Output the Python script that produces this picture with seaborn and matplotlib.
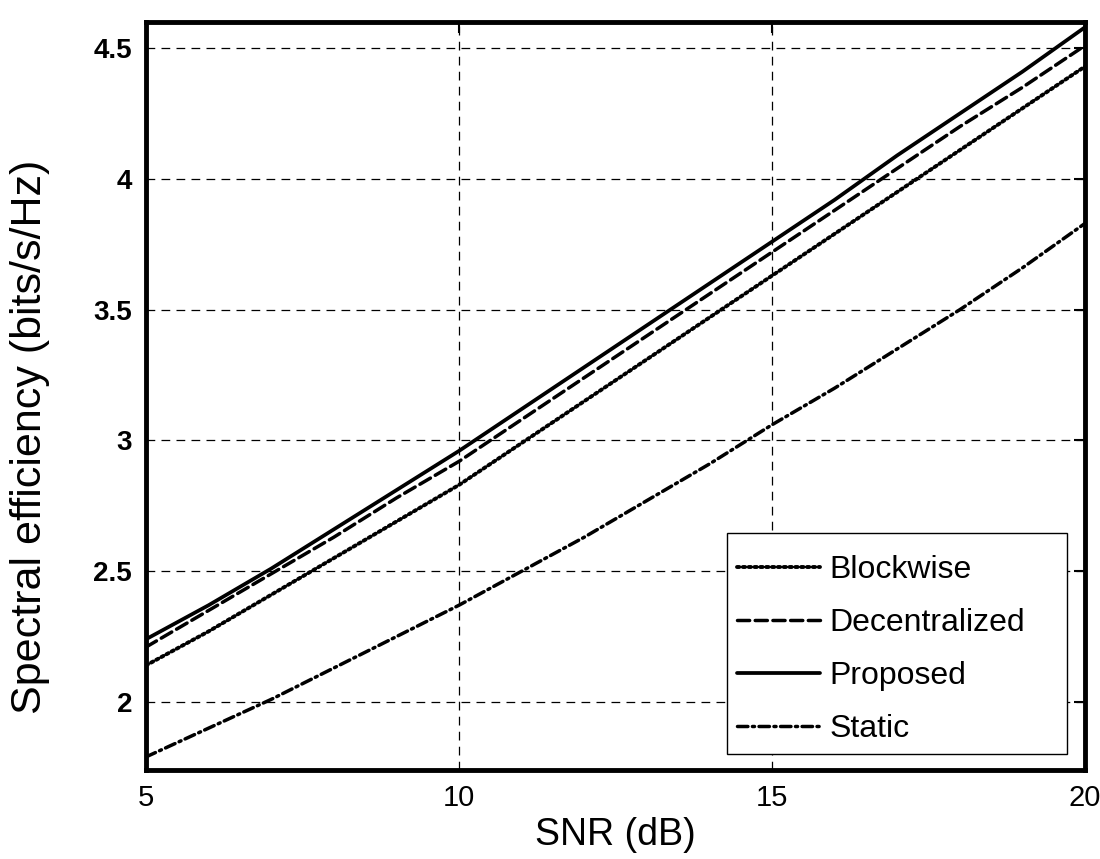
import pandas as pd
import numpy as np
import matplotlib
matplotlib.use('Agg')
import matplotlib.pyplot as plt
from matplotlib.patches import Rectangle
import seaborn as sns

# ── Data ──────────────────────────────────────────────────────────────────────
snr = [5, 6, 7, 8, 9, 10, 11, 12, 13, 14, 15, 16, 17, 18, 19, 20]
blockwise     = [2.14, 2.27, 2.41, 2.55, 2.69, 2.83, 2.99, 3.15, 3.31, 3.47, 3.63, 3.79, 3.95, 4.11, 4.27, 4.43]
decentralized = [2.21, 2.35, 2.49, 2.63, 2.78, 2.92, 3.08, 3.24, 3.40, 3.56, 3.72, 3.88, 4.04, 4.20, 4.35, 4.51]
proposed      = [2.24, 2.37, 2.51, 2.66, 2.81, 2.96, 3.12, 3.28, 3.44, 3.60, 3.76, 3.92, 4.09, 4.25, 4.41, 4.58]
static        = [1.79, 1.90, 2.01, 2.13, 2.25, 2.37, 2.50, 2.63, 2.77, 2.91, 3.06, 3.20, 3.35, 3.50, 3.66, 3.83]
methods = ['Blockwise', 'Decentralized', 'Proposed', 'Static']
x_ticks = [5, 10, 15, 20]
y_ticks = [2, 2.5, 3, 3.5, 4, 4.5]
y_tick_labels = ['2', '2.5', '3', '3.5', '4', '4.5']

df = pd.DataFrame({
    'SNR': snr * 4,
    'value': blockwise + decentralized + proposed + static,
    'method': [m for m in methods for _ in snr],
})

# ── Style ─────────────────────────────────────────────────────────────────────
sns.set_theme(style='white')
plt.rcParams['font.family'] = ['Liberation Sans', 'DejaVu Sans']
plt.rcParams['text.color'] = 'black'
plt.rcParams['axes.labelcolor'] = 'black'

dash_map = {
    'Blockwise': (0.6, 0.9),
    'Decentralized': (3.5, 1.6),
    'Proposed': '',
    'Static': (3.0, 1.3, 0.6, 1.3),
}
width_map = {'Blockwise': 2.8, 'Decentralized': 2.5, 'Proposed': 2.7, 'Static': 2.5}

W, H = 1100, 859
fig = plt.figure(figsize=(11, 8.59), dpi=100)
ax = fig.add_axes([0.1327, 0.1036, 0.8537, 0.8708])

for m in methods:
    sub = df[df['method'] == m]
    sns.lineplot(data=sub, x='SNR', y='value', ax=ax, color='black',
                 linewidth=width_map[m], label=m, errorbar=None)
    line = ax.lines[-1]
    if dash_map[m]:
        line.set_dashes(dash_map[m])
        line.set_dash_capstyle('round')

ax.set_xlim(5, 20)
ax.set_ylim(1.74, 4.60)
ax.set_xticks(x_ticks)
ax.set_yticks(y_ticks)
ax.set_xticklabels([str(t) for t in x_ticks], fontsize=21)
ax.set_yticklabels(y_tick_labels, fontsize=20, fontweight='bold')
ax.tick_params(direction='in', length=8, width=1.5, colors='black', pad=10,
               top=True, right=True)
ax.grid(True, color='black', linestyle=(0, (7, 5)), linewidth=0.9)
ax.set_axisbelow(True)
for sp in ax.spines.values():
    sp.set_linewidth(3.5)
    sp.set_color('black')

ax.set_xlabel('SNR (dB)', fontsize=27, labelpad=4, color='black')
ax.set_ylabel('')
fig.text(30 / W, 1 - 437 / H, 'Spectral efficiency (bits/s/Hz)',
         rotation=90, ha='center', va='center', fontsize=31, color='black')

# legend box (MATLAB style: wide right margin), drawn separately from entries
ax.add_patch(Rectangle((727 / W, 1 - 754 / H), 340 / W, 221 / H,
                       transform=fig.transFigure, facecolor='white',
                       edgecolor='black', linewidth=1.0, zorder=5,
                       clip_on=False))
leg = ax.legend(loc='upper left', bbox_to_anchor=(737 / W, 1 - 555 / H),
                bbox_transform=fig.transFigure, fontsize=23, frameon=False,
                handlelength=2.6, handletextpad=0.3,
                labelspacing=0.72, borderpad=0.0, borderaxespad=0)
leg.set_zorder(6)
for t in leg.get_texts():
    t.set_color('black')

fig.savefig('out.png', dpi=100)
